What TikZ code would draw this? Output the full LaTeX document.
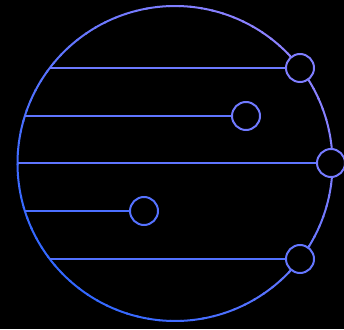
\documentclass[tikz,border=0pt]{standalone}
\definecolor{cA}{RGB}{51,104,255}
\definecolor{cB}{RGB}{140,130,255}
\begin{document}
\begin{tikzpicture}[x=1pt,y=1pt,
  stroke/.style={line width=2pt},
  knob/.style={circle,draw,fill=black,line width=2pt,minimum size=28pt,inner sep=0pt}]
\fill[black] (0,0) rectangle (344,329);
\useasboundingbox (0,0) rectangle (344,329);
% big circle with diagonal gradient
\foreach \a in {0,4,...,356}{
  \pgfmathsetmacro\p{50+50*(cos(\a+2)+sin(\a+2))/1.4142}
  \draw[stroke,color=cB!\p!cA] (175,165.5) ++(\a:157.5) arc[start angle=\a,end angle=\a+4.6,radius=157.5];
}
% anchors on circle
\coordinate (l1) at (50,261);
\coordinate (l2) at (25,213);
\coordinate (l3) at (18,166);
\coordinate (l4) at (25,118);
\coordinate (l5) at (50,70);
% knobs
\node[knob,draw=cB!85!cA] (k1) at (300,261) {};
\node[knob,draw=cB!69!cA] (k2) at (246,213) {};
\node[knob,draw=cB!75!cA] (k3) at (331,166) {};
\node[knob,draw=cB!38!cA] (k4) at (144,118) {};
\node[knob,draw=cB!55!cA] (k5) at (300,70) {};
% lines
\draw[stroke,color=cB!64!cA] (l1) -- (k1.west);
\draw[stroke,color=cB!50!cA] (l2) -- (k2.west);
\draw[stroke,color=cB!49!cA] (l3) -- (k3.west);
\draw[stroke,color=cB!27!cA] (l4) -- (k4.west);
\draw[stroke,color=cB!34!cA] (l5) -- (k5.west);
\end{tikzpicture}
\end{document}
